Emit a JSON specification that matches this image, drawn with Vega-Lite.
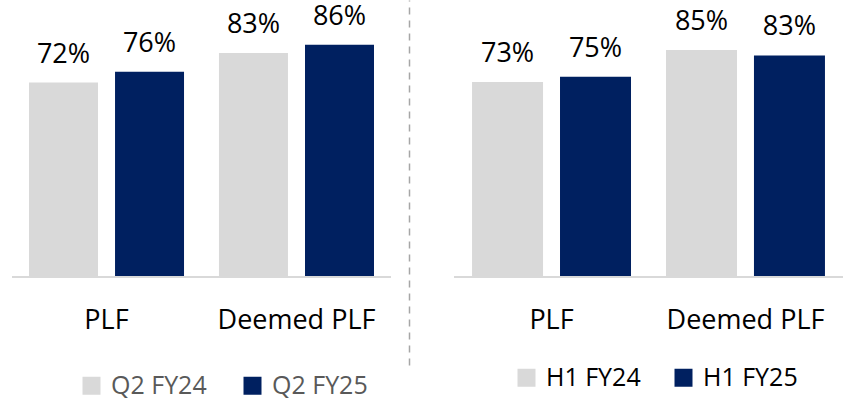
{
  "$schema": "https://vega.github.io/schema/vega-lite/v6.json",
  "padding": {"left": 11, "top": 0, "right": 0, "bottom": 0},
  "background": "white",
  "bounds": "flush",
  "spacing": 63,
  "config": {
    "view": {"stroke": null},
    "font": "Open Sans"
  },
  "datasets": {
    "q2": [
      {"category": "PLF", "period": "Q2 FY24", "value": 0.72},
      {"category": "PLF", "period": "Q2 FY25", "value": 0.76},
      {"category": "Deemed PLF", "period": "Q2 FY24", "value": 0.83},
      {"category": "Deemed PLF", "period": "Q2 FY25", "value": 0.86}
    ],
    "h1": [
      {"category": "PLF", "period": "H1 FY24", "value": 0.73},
      {"category": "PLF", "period": "H1 FY25", "value": 0.75},
      {"category": "Deemed PLF", "period": "H1 FY24", "value": 0.85},
      {"category": "Deemed PLF", "period": "H1 FY25", "value": 0.83}
    ]
  },
  "resolve": {"scale": {"x": "independent", "y": "independent", "color": "independent", "xOffset": "independent"}, "legend": {"color": "independent"}},
  "hconcat": [
    {
      "width": 379,
      "height": 365,
      "data": {"name": "q2"},
      "encoding": {
        "x": {"field": "category", "type": "nominal", "sort": ["PLF", "Deemed PLF"],
          "scale": {"paddingInner": 0.184, "paddingOuter": 0.0895},
          "axis": {"title": null, "orient": "bottom", "offset": -37, "domain": false, "ticks": false, "labelPadding": 0, "labelBaseline": "alphabetic", "labelAngle": 0, "labelFontSize": 27, "labelColor": "#000000", "labelFont": "Open Sans"}},
        "xOffset": {"field": "period", "type": "nominal", "sort": ["Q2 FY24", "Q2 FY25"], "scale": {"paddingInner": 0.198, "paddingOuter": 0}},
        "y": {"field": "value", "type": "quantitative",
          "scale": {"domain": [-0.326, 1.026], "nice": false, "zero": false},
          "axis": {"title": null, "orient": "right", "offset": 18, "labels": false, "ticks": false, "grid": false, "domain": true, "domainColor": "#a6a6a6", "domainWidth": 1.5, "domainDash": [7, 6]}}
      },
      "layer": [
        {
          "mark": {"type": "bar"},
          "encoding": {
            "color": {"field": "period", "type": "nominal", "sort": ["Q2 FY24", "Q2 FY25"],
              "scale": {"domain": ["Q2 FY24", "Q2 FY25"], "range": ["#d9d9d9", "#002060"]},
              "legend": {"title": null, "orient": "none", "direction": "horizontal", "legendX": 67, "legendY": 373, "padding": 0, "symbolType": "square", "symbolSize": 324, "symbolStrokeWidth": 0, "labelFontSize": 25, "labelColor": "#595959", "labelFont": "Open Sans", "labelOffset": 7, "columnPadding": 33, "labelLimit": 300}}
          }
        },
        {
          "mark": {"type": "text", "baseline": "alphabetic", "dy": -20, "fontSize": 27, "color": "#000000"},
          "encoding": {"text": {"field": "value", "type": "quantitative", "format": ".0%"}}
        },
        {
          "mark": {"type": "rule", "color": "#d9d9d9", "strokeWidth": 2},
          "encoding": {"y": {"datum": 0}, "x": null, "xOffset": null}
        }
      ]
    },
    {
      "width": 389,
      "height": 365,
      "data": {"name": "h1"},
      "encoding": {
        "x": {"field": "category", "type": "nominal", "sort": ["PLF", "Deemed PLF"],
          "scale": {"paddingInner": 0.1804, "paddingOuter": 0.093},
          "axis": {"title": null, "orient": "bottom", "offset": -37, "domain": false, "ticks": false, "labelPadding": 0, "labelBaseline": "alphabetic", "labelAngle": 0, "labelFontSize": 27, "labelColor": "#000000", "labelFont": "Open Sans"}},
        "xOffset": {"field": "period", "type": "nominal", "sort": ["H1 FY24", "H1 FY25"], "scale": {"paddingInner": 0.193, "paddingOuter": 0}},
        "y": {"field": "value", "type": "quantitative",
          "scale": {"domain": [-0.3296, 1.0375], "nice": false, "zero": false},
          "axis": null}
      },
      "layer": [
        {
          "mark": {"type": "bar"},
          "encoding": {
            "color": {"field": "period", "type": "nominal", "sort": ["H1 FY24", "H1 FY25"],
              "scale": {"domain": ["H1 FY24", "H1 FY25"], "range": ["#d9d9d9", "#002060"]},
              "legend": {"title": null, "orient": "none", "direction": "horizontal", "legendX": 60, "legendY": 365, "padding": 0, "symbolType": "square", "symbolSize": 324, "symbolStrokeWidth": 0, "labelFontSize": 25, "labelColor": "#000000", "labelFont": "Open Sans", "labelOffset": 7, "columnPadding": 30, "labelLimit": 300}}
          }
        },
        {
          "mark": {"type": "text", "baseline": "alphabetic", "dy": -20, "fontSize": 27, "color": "#000000"},
          "encoding": {"text": {"field": "value", "type": "quantitative", "format": ".0%"}}
        },
        {
          "mark": {"type": "rule", "color": "#d9d9d9", "strokeWidth": 2},
          "encoding": {"y": {"datum": 0}, "x": null, "xOffset": null}
        }
      ]
    }
  ]
}
